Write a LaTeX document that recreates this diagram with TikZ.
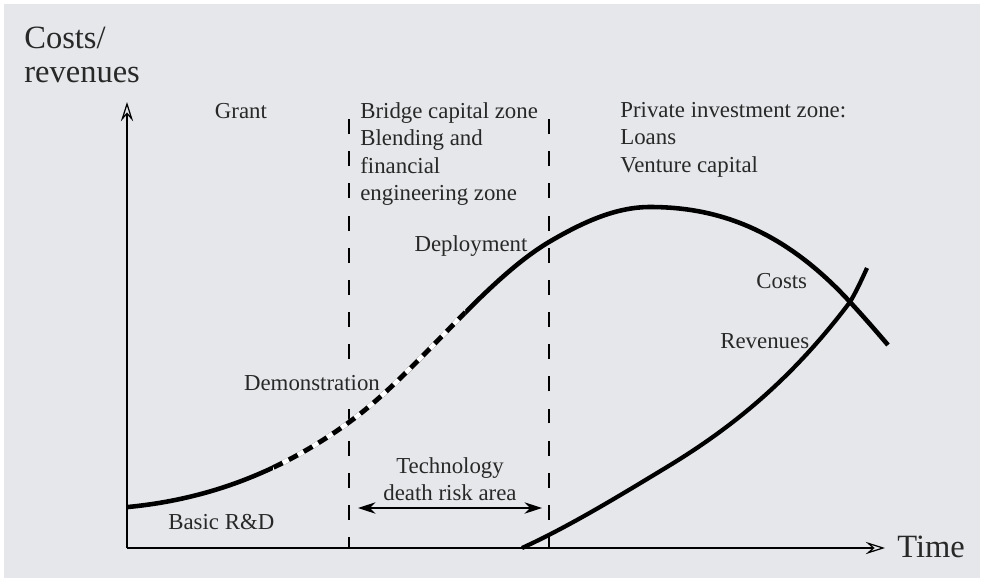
\documentclass[tikz,border=0pt]{standalone}
\usepackage{fontspec}
\setmainfont{Liberation Serif}
\usetikzlibrary{arrows.meta}
\definecolor{panelgray}{RGB}{229,231,234}
\definecolor{inkgray}{RGB}{40,40,40}
% rising part of the costs curve, used twice
\newcommand{\costsrise}{(128,507) .. controls (201,500) and (275,476) .. (348,423)
    .. controls (415,375) and (482,282) .. (549,242)}

\begin{document}
\begin{tikzpicture}[x=0.02cm,y=-0.02cm]% one unit = one pixel of the original
    \useasboundingbox (0,0) rectangle (984,578);
    \fill[panelgray] (4,4) rectangle (980,578);

    \coordinate (Origin)   at (127,548);
    \coordinate (XAxisMax) at (885,548);
    \coordinate (YAxisMax) at (127,102);
    \draw [line width=1.7pt,-{Stealth[open,line width=0.7pt,length=11pt,width=7pt,inset=4pt]}]
        (Origin) -- (XAxisMax);% x axis
    \draw [line width=1.7pt,-{Stealth[open,line width=0.7pt,length=11pt,width=7pt,inset=4pt]}]
        (Origin) -- (YAxisMax);% y axis

    % zone borders
    \coordinate (BridgeBot)  at (349,548);
    \coordinate (BridgeTop)  at (349,108);
    \coordinate (PrivateBot) at (549,548);
    \coordinate (PrivateTop) at (549,108);
    \draw [line width=1.1pt,dash pattern=on 8.5pt off 9.8pt,dash phase=2.3pt]
        (BridgeBot) -- (BridgeTop);
    \draw [line width=1.1pt,dash pattern=on 8.5pt off 9.8pt,dash phase=2.3pt]
        (PrivateBot) -- (PrivateTop);

    % costs curve
    \draw [line width=2.6pt] \costsrise
        .. controls (583,222) and (616,207) .. (650,207)
        .. controls (717,207) and (783,229) .. (850,302)
        .. controls (863,316) and (876,331) .. (888,345);
    \begin{scope}
      \clip (273,0) rectangle (465,578);% demonstration stretch
      \draw [line width=2.7pt,white] \costsrise;
      \draw [line width=2.7pt,dash pattern=on 5.7pt off 4pt,dash phase=1pt] \costsrise;
    \end{scope}

    % revenues curve
    \draw [line width=2.4pt] (522,548)
        .. controls (570,526) and (619,496) .. (667,467)
        .. controls (728,430) and (789,383) .. (850,302)
        .. controls (856,292) and (862,279) .. (867,268);

    % risk arrow
    \coordinate (RiskLeft)  at (358,508);
    \coordinate (RiskRight) at (542,508);
    \draw [line width=0.6pt,{Stealth[length=10pt,width=6.5pt]}-{Stealth[length=10pt,width=6.5pt]}]
        (RiskLeft) -- (RiskRight);

    % labels
    \begin{scope}[inkgray,inner sep=0pt]
      \node (ylabel) [anchor=north west,align=left,font=\fontsize{18.5}{19.4}\selectfont]
          at (24,27) {Costs/\\revenues};
      \node (time) [anchor=base west,font=\fontsize{18.5}{19.4}\selectfont]
          at (897,557) {Time};
      \node (grant) [anchor=base,font=\fontsize{13}{15.6}\selectfont]
          at (241,118) {Grant};
      \node (bridge) [anchor=north west,align=left,font=\fontsize{13}{15.65}\selectfont]
          at (360,102) {Bridge capital zone\\Blending and\\financial\\engineering zone};
      \node (private) [anchor=north west,align=left,font=\fontsize{13}{15.65}\selectfont]
          at (620,102) {Private investment zone:\\Loans\\Venture capital};
      \node (deploy) [anchor=base,font=\fontsize{13}{15.6}\selectfont]
          at (471,251) {Deployment};
      \node (demo) [anchor=base west,fill=panelgray,inner sep=1pt,font=\fontsize{13}{15.6}\selectfont]
          at (242,390) {Demonstration};
      \node (basicrd) [anchor=base west,font=\fontsize{13}{15.6}\selectfont]
          at (168,529) {Basic R\&D};
      \node (costs) [anchor=base west,font=\fontsize{13}{15.6}\selectfont]
          at (756,288) {Costs};
      \node (revenues) [anchor=base west,font=\fontsize{13}{15.6}\selectfont]
          at (720,348) {Revenues};
      \node (risk) [anchor=north,align=center,font=\fontsize{13}{15.65}\selectfont]
          at (450,457) {Technology\\death risk area};
    \end{scope}
\end{tikzpicture}
\end{document}
